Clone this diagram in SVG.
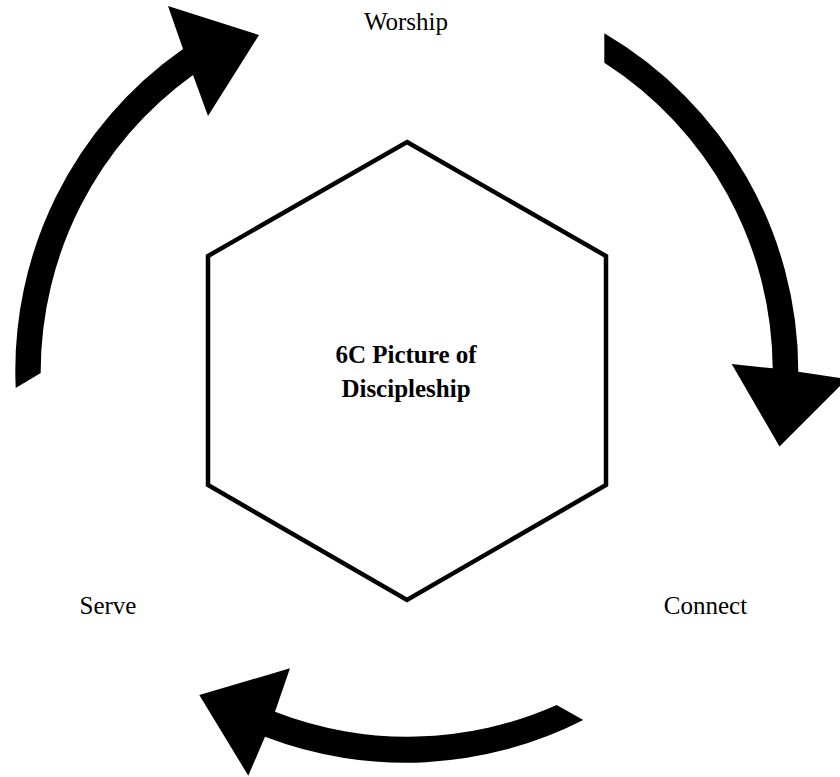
<svg xmlns="http://www.w3.org/2000/svg" width="840" height="777" viewBox="0 0 840 777">
<style>
.lbl{font-family:"Liberation Serif","Times New Roman",serif;font-size:25px;fill:#000;text-anchor:middle}
.ctr{font-weight:bold}
.hex{fill:#fff;stroke:#000;stroke-width:4.5;stroke-linejoin:miter}
.arr{fill:#000;stroke:none}
</style>
<rect width="840" height="777" fill="#fff"/>
<g id="center">
<polygon class="hex" points="407,142 606,256 606,485 407,600 208,485 208,256"/>
<text class="lbl ctr" x="406" y="363">6C Picture of</text>
<text class="lbl ctr" x="406" y="397">Discipleship</text>
</g>
<g id="worship"><text class="lbl" x="406" y="30">Worship</text></g>
<g id="connect"><text class="lbl" x="705.5" y="614">Connect</text></g>
<g id="serve"><text class="lbl" x="108" y="614">Serve</text></g>
<g id="connectors">
<path class="arr" d="M 604.3,33.3 A 392 392 0 0 1 798.3,371.7 L 847,379 L 779.5,446.5 L 731.7,364 L 772.7,368.3 A 366 366 0 0 0 604.3,62.7 Z"/>
<path class="arr" d="M 583.3,720 A 392 392 0 0 1 265,736.7 L 248.3,775.7 L 199.3,695 L 290,668.3 L 275,711.7 A 366 366 0 0 0 556.7,705 Z"/>
<path class="arr" d="M 15.7,388 A 392 392 0 0 1 183,49 L 168,6 L 259,35 L 208,116 L 193,75 A 366 366 0 0 0 40.7,373 Z"/>
</g>
</svg>
